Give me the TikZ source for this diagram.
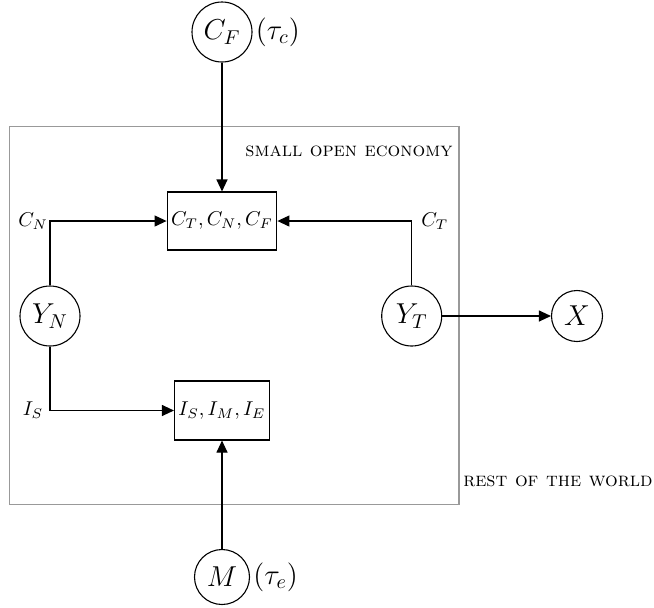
\documentclass[tikz,border=0pt]{standalone}
\usetikzlibrary{arrows.meta}
\begin{document}
\begin{tikzpicture}[x=0.5pt,y=-0.5pt,
  var/.style={circle,draw,line width=0.55pt,inner sep=1pt,font=\Large},
  boxnode/.style={rectangle,draw,line width=0.55pt,inner sep=2pt},
  conn/.style={line width=0.55pt,-{Triangle[length=6pt,width=5.5pt]}},
  lbl/.style={inner sep=0pt},
  tau/.style={anchor=west,inner sep=1.5pt,font=\Large},
  region/.style={draw=black!40,line width=0.55pt}]
\useasboundingbox (0,0) rectangle (654,607);
\draw[region] (9.3,126.7) rectangle (459,504.3);
\node[lbl,anchor=east] (soe) at (453,151.7) {\textsc{small open economy}};
\node[lbl,anchor=east] (row) at (653,481.7) {\textsc{rest of the world}};

\node[var,minimum size=30pt] (CF) at (222,32) {$C_F$};
\node[tau] (tc) at (CF.east) {$(\tau_c)$};
\node[var,minimum size=30pt] (YN) at (50,316) {$Y_N$};
\node[var,minimum size=30pt] (YT) at (411.7,316) {$Y_T$};
\node[var,minimum size=25.5pt] (X) at (577,316) {$X$};
\node[var,minimum size=27.5pt] (M) at (222,577) {$M$};
\node[tau] (te) at (M.east) {$(\tau_e)$};

\node[boxnode,minimum width=54.5pt,minimum height=29pt] (cbox) at (222,221) {$C_T,C_N,C_F$};
\node[boxnode,minimum width=47pt,minimum height=29.5pt] (ibox) at (222,410.5) {$I_S,I_M,I_E$};

\draw[conn] (CF) -- (cbox);
\draw[conn] (M) -- (ibox);
\draw[conn] (YT) -- (X);
\draw[conn] (YN.north) |- (cbox.west) coordinate[pos=0.5] (cn);
\draw[conn] (YN.south) |- (ibox.west) coordinate[pos=0.5] (is);
\draw[conn] (YT.north) |- (cbox.east) coordinate[pos=0.5] (ct);
\node[lbl] (lcn) at ([xshift=-8.5pt]cn) {$C_N$};
\node[lbl] (lis) at ([xshift=-8.5pt]is) {$I_S$};
\node[lbl] (lct) at ([xshift=11.5pt]ct) {$C_T$};
\end{tikzpicture}
\end{document}
